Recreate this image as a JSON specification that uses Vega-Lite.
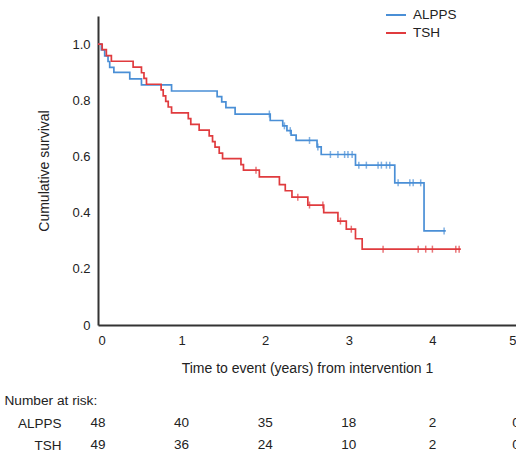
{
  "$schema": "https://vega.github.io/schema/vega-lite/v6.json",
  "background": "white",
  "padding": {"left": 4, "top": 4, "right": 0, "bottom": 0},
  "config": {
    "font": "Liberation Sans",
    "view": {"stroke": null},
    "axis": {"labelFont": "Liberation Sans", "titleFont": "Liberation Sans", "labelColor": "#222", "titleColor": "#222", "grid": false, "ticks": false, "domainColor": "#333", "domainWidth": 2, "labelFontSize": 13, "titleFontSize": 14, "titleFontWeight": "normal"},
    "legend": {"labelFont": "Liberation Sans", "labelFontSize": 13.5, "labelColor": "#222"},
    "concat": {"spacing": 19}
  },
  "datasets": {
    "km": [
      {"group": "ALPPS", "t": 0, "s": 1.0},
      {"group": "ALPPS", "t": 0.04, "s": 0.979},
      {"group": "ALPPS", "t": 0.08, "s": 0.958},
      {"group": "ALPPS", "t": 0.12, "s": 0.938},
      {"group": "ALPPS", "t": 0.14, "s": 0.917},
      {"group": "ALPPS", "t": 0.19, "s": 0.899},
      {"group": "ALPPS", "t": 0.38, "s": 0.876},
      {"group": "ALPPS", "t": 0.52, "s": 0.855},
      {"group": "ALPPS", "t": 0.88, "s": 0.833},
      {"group": "ALPPS", "t": 1.425, "s": 0.813},
      {"group": "ALPPS", "t": 1.48, "s": 0.794},
      {"group": "ALPPS", "t": 1.53, "s": 0.774},
      {"group": "ALPPS", "t": 1.64, "s": 0.751},
      {"group": "ALPPS", "t": 2.06, "s": 0.728},
      {"group": "ALPPS", "t": 2.21, "s": 0.709},
      {"group": "ALPPS", "t": 2.26, "s": 0.692},
      {"group": "ALPPS", "t": 2.31, "s": 0.676},
      {"group": "ALPPS", "t": 2.37, "s": 0.657},
      {"group": "ALPPS", "t": 2.62, "s": 0.634},
      {"group": "ALPPS", "t": 2.67, "s": 0.607},
      {"group": "ALPPS", "t": 3.08, "s": 0.569},
      {"group": "ALPPS", "t": 3.55, "s": 0.506},
      {"group": "ALPPS", "t": 3.9, "s": 0.335},
      {"group": "ALPPS", "t": 4.16, "s": 0.335},
      {"group": "TSH", "t": 0, "s": 1.0},
      {"group": "TSH", "t": 0.05, "s": 0.98},
      {"group": "TSH", "t": 0.1, "s": 0.959},
      {"group": "TSH", "t": 0.16, "s": 0.939},
      {"group": "TSH", "t": 0.42, "s": 0.918},
      {"group": "TSH", "t": 0.52, "s": 0.898},
      {"group": "TSH", "t": 0.55, "s": 0.878},
      {"group": "TSH", "t": 0.58, "s": 0.857},
      {"group": "TSH", "t": 0.755, "s": 0.837},
      {"group": "TSH", "t": 0.78, "s": 0.816},
      {"group": "TSH", "t": 0.81, "s": 0.796},
      {"group": "TSH", "t": 0.84, "s": 0.776},
      {"group": "TSH", "t": 0.88, "s": 0.755},
      {"group": "TSH", "t": 1.08, "s": 0.735},
      {"group": "TSH", "t": 1.11, "s": 0.714},
      {"group": "TSH", "t": 1.21, "s": 0.694},
      {"group": "TSH", "t": 1.33, "s": 0.673},
      {"group": "TSH", "t": 1.37, "s": 0.653},
      {"group": "TSH", "t": 1.4, "s": 0.633},
      {"group": "TSH", "t": 1.45, "s": 0.612},
      {"group": "TSH", "t": 1.49, "s": 0.592},
      {"group": "TSH", "t": 1.71, "s": 0.571},
      {"group": "TSH", "t": 1.74, "s": 0.551},
      {"group": "TSH", "t": 1.93, "s": 0.527},
      {"group": "TSH", "t": 2.17, "s": 0.5},
      {"group": "TSH", "t": 2.24, "s": 0.478},
      {"group": "TSH", "t": 2.32, "s": 0.455},
      {"group": "TSH", "t": 2.51, "s": 0.427},
      {"group": "TSH", "t": 2.7, "s": 0.4},
      {"group": "TSH", "t": 2.87, "s": 0.37},
      {"group": "TSH", "t": 2.97, "s": 0.341},
      {"group": "TSH", "t": 3.08, "s": 0.307},
      {"group": "TSH", "t": 3.16, "s": 0.27},
      {"group": "TSH", "t": 4.34, "s": 0.27}
    ],
    "cens": [
      {"group": "ALPPS", "t": 2.05, "s": 0.751},
      {"group": "ALPPS", "t": 2.23, "s": 0.709},
      {"group": "ALPPS", "t": 2.3, "s": 0.692},
      {"group": "ALPPS", "t": 2.53, "s": 0.657},
      {"group": "ALPPS", "t": 2.63, "s": 0.634},
      {"group": "ALPPS", "t": 2.78, "s": 0.607},
      {"group": "ALPPS", "t": 2.87, "s": 0.607},
      {"group": "ALPPS", "t": 2.95, "s": 0.607},
      {"group": "ALPPS", "t": 2.99, "s": 0.607},
      {"group": "ALPPS", "t": 3.04, "s": 0.607},
      {"group": "ALPPS", "t": 3.12, "s": 0.569},
      {"group": "ALPPS", "t": 3.21, "s": 0.569},
      {"group": "ALPPS", "t": 3.35, "s": 0.569},
      {"group": "ALPPS", "t": 3.39, "s": 0.569},
      {"group": "ALPPS", "t": 3.45, "s": 0.569},
      {"group": "ALPPS", "t": 3.49, "s": 0.569},
      {"group": "ALPPS", "t": 3.59, "s": 0.506},
      {"group": "ALPPS", "t": 3.73, "s": 0.506},
      {"group": "ALPPS", "t": 3.77, "s": 0.506},
      {"group": "ALPPS", "t": 3.86, "s": 0.506},
      {"group": "ALPPS", "t": 4.14, "s": 0.335},
      {"group": "TSH", "t": 1.89, "s": 0.551},
      {"group": "TSH", "t": 2.39, "s": 0.455},
      {"group": "TSH", "t": 2.53, "s": 0.427},
      {"group": "TSH", "t": 2.69, "s": 0.427},
      {"group": "TSH", "t": 2.9, "s": 0.37},
      {"group": "TSH", "t": 3.03, "s": 0.341},
      {"group": "TSH", "t": 3.41, "s": 0.27},
      {"group": "TSH", "t": 3.83, "s": 0.27},
      {"group": "TSH", "t": 3.92, "s": 0.27},
      {"group": "TSH", "t": 4.0, "s": 0.27},
      {"group": "TSH", "t": 4.28, "s": 0.27},
      {"group": "TSH", "t": 4.32, "s": 0.27}
    ],
    "risk": [
      {"group": "ALPPS", "t": 0, "n": 48},
      {"group": "ALPPS", "t": 1, "n": 40},
      {"group": "ALPPS", "t": 2, "n": 35},
      {"group": "ALPPS", "t": 3, "n": 18},
      {"group": "ALPPS", "t": 4, "n": 2},
      {"group": "ALPPS", "t": 5, "n": 0},
      {"group": "TSH", "t": 0, "n": 49},
      {"group": "TSH", "t": 1, "n": 36},
      {"group": "TSH", "t": 2, "n": 24},
      {"group": "TSH", "t": 3, "n": 10},
      {"group": "TSH", "t": 4, "n": 2},
      {"group": "TSH", "t": 5, "n": 0}
    ]
  },
  "vconcat": [
    {
      "width": 418,
      "height": 309,
      "layer": [
        {
          "data": {"name": "km"},
          "mark": {"type": "line", "interpolate": "step-after", "strokeWidth": 1.7},
          "encoding": {
            "x": {"field": "t", "type": "quantitative", "scale": {"domain": [0, 5]}, "axis": {"values": [0, 1, 2, 3, 4, 5], "title": "Time to event (years) from intervention 1", "labelPadding": 9, "titlePadding": 14, "format": "d"}},
            "y": {"field": "s", "type": "quantitative", "scale": {"domain": [0, 1.055]}, "axis": {"values": [0, 0.2, 0.4, 0.6, 0.8, 1.0], "labelExpr": "datum.value == 0 ? '0' : format(datum.value, '.1f')", "title": "Cumulative survival", "labelPadding": 8, "titlePadding": 20}},
            "color": {"field": "group", "type": "nominal", "scale": {"domain": ["ALPPS", "TSH"], "range": ["#4a8fd6", "#e03b3e"]}, "legend": {"title": null, "orient": "none", "legendX": 287, "legendY": -12, "symbolType": "stroke", "symbolSize": 400, "symbolStrokeWidth": 2, "padding": 0, "rowPadding": 0, "labelOffset": 6}}
          }
        },
        {
          "data": {"name": "cens"},
          "mark": {"type": "tick", "orient": "vertical", "size": 7, "thickness": 1.5},
          "encoding": {
            "x": {"field": "t", "type": "quantitative"},
            "y": {"field": "s", "type": "quantitative"},
            "color": {"field": "group", "type": "nominal", "legend": null}
          }
        }
      ]
    },
    {
      "width": 418,
      "height": 44,
      "data": {"name": "risk"},
      "title": {"text": "Number at risk:", "anchor": "start", "frame": "bounds", "fontSize": 13.7, "fontWeight": "normal", "font": "Liberation Sans", "color": "#222", "dx": -13, "offset": 4},
      "mark": {"type": "text", "fontSize": 13.5, "font": "Liberation Sans", "color": "#222"},
      "encoding": {
        "x": {"field": "t", "type": "quantitative", "scale": {"domain": [0, 5]}, "axis": null},
        "y": {"field": "group", "type": "nominal", "sort": ["ALPPS", "TSH"], "scale": {"paddingInner": 0, "paddingOuter": 0}, "axis": {"title": null, "domain": false, "ticks": false, "labelPadding": 37, "labelFontSize": 13.5}},
        "text": {"field": "n", "type": "quantitative"}
      }
    }
  ]
}
